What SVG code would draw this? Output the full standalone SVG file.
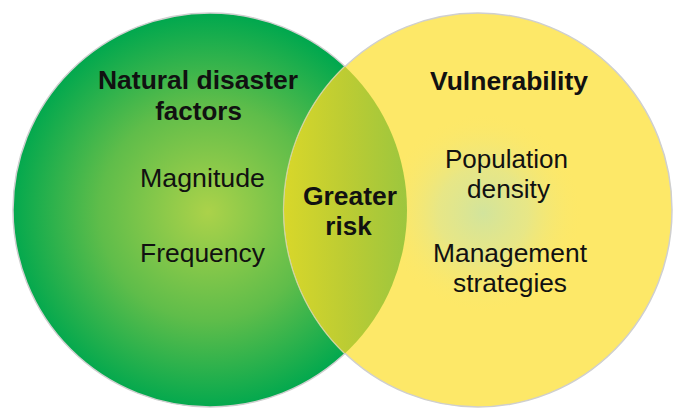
<svg xmlns="http://www.w3.org/2000/svg" width="673" height="409" viewBox="0 0 673 409">
<defs>
<radialGradient id="gGreen" gradientUnits="userSpaceOnUse" cx="208" cy="212" r="197">
<stop offset="0" stop-color="#abd24a"/>
<stop offset="0.55" stop-color="#5fbd4a"/>
<stop offset="1" stop-color="#02a84e"/>
</radialGradient>
<radialGradient id="gSpot" gradientUnits="userSpaceOnUse" cx="483" cy="213" r="100">
<stop offset="0" stop-color="#d2e49c" stop-opacity="1"/>
<stop offset="0.45" stop-color="#e0e690" stop-opacity="0.75"/>
<stop offset="1" stop-color="#fde868" stop-opacity="0"/>
</radialGradient>
<linearGradient id="gLens" gradientUnits="userSpaceOnUse" x1="284" y1="0" x2="408" y2="0">
<stop offset="0" stop-color="#d8d72a"/>
<stop offset="0.5" stop-color="#bccc33"/>
<stop offset="1" stop-color="#9cc63e"/>
</linearGradient>
<clipPath id="clipYellow">
<ellipse cx="478" cy="210" rx="194" ry="197"/>
</clipPath>
<style>
.edge{stroke:#cfcfcf;stroke-width:1.5}
.t{font-family:"Liberation Sans",Arial,Helvetica,sans-serif;fill:#111;text-anchor:middle}
.b{font-weight:bold;font-size:26px}
.r{font-size:25px}
</style>
</defs>
<rect width="673" height="409" fill="#ffffff"/>
<g id="circle-natural">
<ellipse class="edge" cx="210" cy="210" rx="197" ry="197" fill="url(#gGreen)"/>
</g>
<g id="circle-vulnerability">
<ellipse class="edge" cx="478" cy="210" rx="194" ry="197" fill="#fde868"/>
<ellipse cx="478" cy="210" rx="193" ry="196" fill="url(#gSpot)"/>
</g>
<g id="overlap">
<ellipse cx="210" cy="210" rx="197" ry="197" fill="url(#gLens)" clip-path="url(#clipYellow)"/>
<path d="M344,67 A194,197 0 0 0 344,353" fill="none" stroke="#d6d89a" stroke-width="1.2" opacity="0.8"/>
</g>
<g id="labels-natural">
<text class="t b" x="198" y="89" textLength="200" lengthAdjust="spacingAndGlyphs">Natural disaster</text>
<text class="t b" x="198.5" y="120">factors</text>
<text class="t r" x="202.5" y="187" textLength="125" lengthAdjust="spacingAndGlyphs">Magnitude</text>
<text class="t r" x="202.5" y="262" textLength="125" lengthAdjust="spacingAndGlyphs">Frequency</text>
</g>
<g id="labels-overlap">
<text class="t b" x="350" y="205" textLength="94" lengthAdjust="spacingAndGlyphs">Greater</text>
<text class="t b" x="348.5" y="235">risk</text>
</g>
<g id="labels-vulnerability">
<text class="t b" x="509" y="90" textLength="158" lengthAdjust="spacingAndGlyphs">Vulnerability</text>
<text class="t r" x="506.5" y="168" textLength="123" lengthAdjust="spacingAndGlyphs">Population</text>
<text class="t r" x="508.5" y="198" textLength="83" lengthAdjust="spacingAndGlyphs">density</text>
<text class="t r" x="510" y="262" textLength="154" lengthAdjust="spacingAndGlyphs">Management</text>
<text class="t r" x="510" y="292" textLength="114" lengthAdjust="spacingAndGlyphs">strategies</text>
</g>
<g id="connectors"></g>
</svg>
